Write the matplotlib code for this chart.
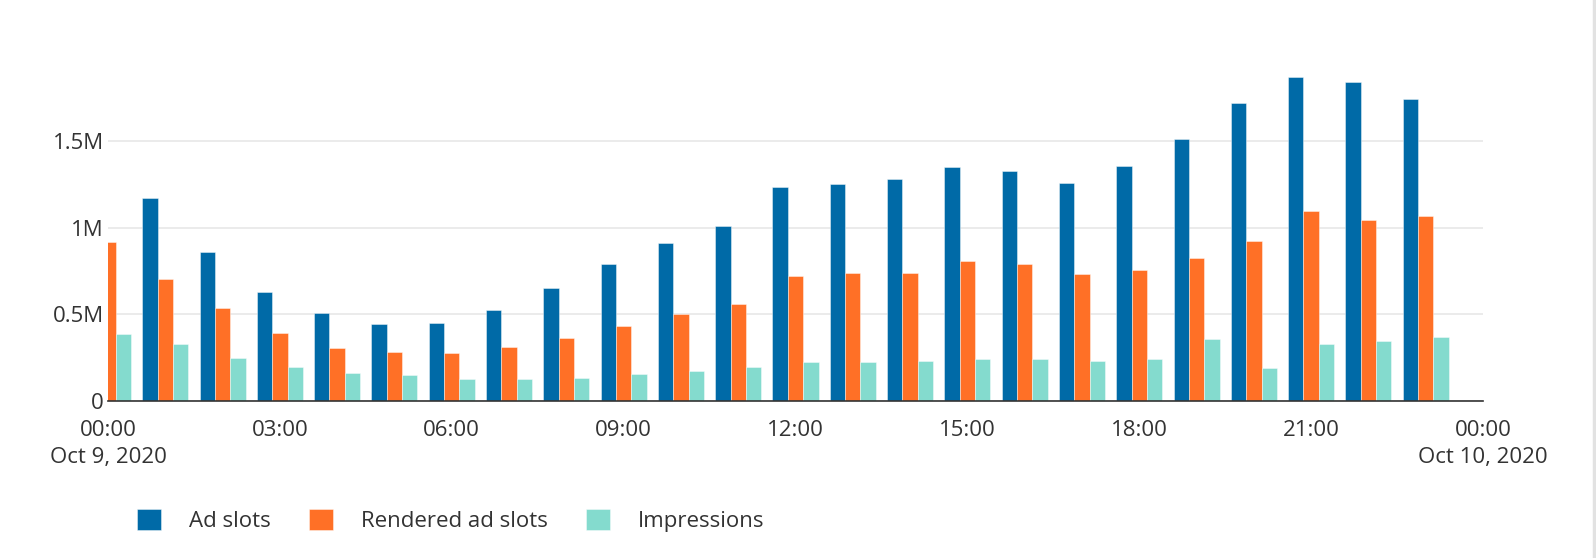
import numpy as np
import matplotlib
matplotlib.use('Agg')
import matplotlib.pyplot as plt
from matplotlib.lines import Line2D

plt.rcParams['font.family'] = ['Open Sans', 'DejaVu Sans']

# hourly values for Oct 9, 2020 (hour of day)
hours = np.arange(24)
# first ad slots bar sits left of the axis and is not visible
ad_slots = [np.nan, 1.169e6, 0.859e6, 0.630e6, 0.507e6, 0.442e6, 0.448e6, 0.525e6,
            0.652e6, 0.790e6, 0.912e6, 1.012e6, 1.235e6, 1.250e6, 1.279e6, 1.350e6,
            1.327e6, 1.260e6, 1.354e6, 1.514e6, 1.720e6, 1.870e6, 1.838e6, 1.743e6]
rendered = [0.919e6, 0.703e6, 0.538e6, 0.392e6, 0.308e6, 0.283e6, 0.277e6, 0.310e6,
            0.362e6, 0.433e6, 0.500e6, 0.560e6, 0.721e6, 0.736e6, 0.736e6, 0.807e6,
            0.793e6, 0.732e6, 0.753e6, 0.826e6, 0.923e6, 1.096e6, 1.044e6, 1.067e6]
impressions = [0.386e6, 0.329e6, 0.250e6, 0.194e6, 0.161e6, 0.148e6, 0.127e6, 0.125e6,
               0.135e6, 0.154e6, 0.175e6, 0.196e6, 0.223e6, 0.227e6, 0.230e6, 0.242e6,
               0.242e6, 0.230e6, 0.242e6, 0.357e6, 0.192e6, 0.329e6, 0.346e6, 0.367e6]

x_ticks = [0, 3, 6, 9, 12, 15, 18, 21, 24]
x_labels = ['00:00\nOct 9, 2020', '03:00', '06:00', '09:00', '12:00',
            '15:00', '18:00', '21:00', '00:00\nOct 10, 2020']
y_ticks = [0, 0.5e6, 1e6, 1.5e6]
y_labels = ['0', '0.5M', '1M', '1.5M']

series = [('Ad slots', ad_slots, '#006aa7'),
          ('Rendered ad slots', rendered, '#ff7026'),
          ('Impressions', impressions, '#84dbce')]

text_col = '#333333'

fig = plt.figure(figsize=(15.96, 5.58), dpi=100)
ax = fig.add_axes([108 / 1596, 1 - 401 / 558, (1483 - 108) / 1596, (401 - 63) / 558])

w = 0.268
for i, (name, vals, col) in enumerate(series):
    ax.bar(hours + (i - 1) * w, vals, width=w, color=col, label=name,
           edgecolor=(1, 1, 1, 0.5), linewidth=0.6, zorder=2)

ax.set_xlim(0, 24)
ax.set_ylim(0, 1.95e6)
ax.set_xticks(x_ticks)
ax.set_xticklabels(x_labels, fontsize=16, color=text_col, linespacing=1.35)
ax.set_yticks(y_ticks)
ax.set_yticklabels(y_labels, fontsize=16, color=text_col)
ax.tick_params(axis='both', length=0)
ax.tick_params(axis='x', pad=14)
ax.tick_params(axis='y', pad=3)

ax.grid(axis='y', color='#e8e8e8', linewidth=1.2, zorder=0)
for s in ['top', 'right', 'left']:
    ax.spines[s].set_visible(False)
ax.spines['bottom'].set_color('#333333')
ax.spines['bottom'].set_linewidth(1.2)
ax.spines['bottom'].set_zorder(3)

leg = fig.legend(loc='upper left', bbox_to_anchor=(117 / 1596, 1 - 489 / 558),
                 ncol=3, frameon=False, fontsize=16, handlelength=1.1,
                 handleheight=1.1, handletextpad=1.25, columnspacing=1.7)
for t in leg.get_texts():
    t.set_color(text_col)

# light border on the right edge of the page
fig.add_artist(Line2D([1593.5 / 1596, 1593.5 / 1596], [0, 1], color='#e2e2e2',
                      linewidth=2.5, transform=fig.transFigure))

fig.savefig('out.png', dpi=100)
